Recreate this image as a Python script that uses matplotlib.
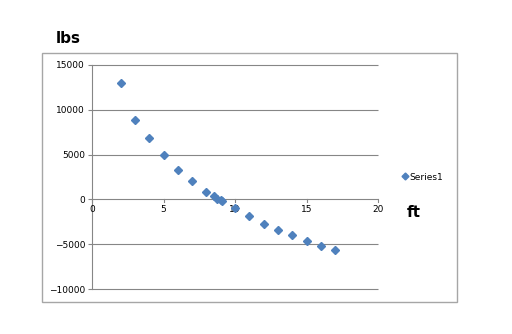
import matplotlib
matplotlib.use("Agg")
import matplotlib.pyplot as plt
from matplotlib.patches import Rectangle
from matplotlib.lines import Line2D

x_ft = [2, 3, 4, 5, 6, 7, 8, 8.5, 8.75, 9, 9.1, 10, 11, 12, 13, 14, 15, 16, 17]
y_lbs = [13000, 8900, 6900, 5000, 3300, 2000, 800, 350, 100, -100, -200,
         -1000, -1900, -2700, -3400, -3950, -4650, -5150, -5700]
x_ticks = [0, 5, 10, 15, 20]
y_ticks = [-10000, -5000, 0, 5000, 10000, 15000]
series_name = "Series1"

blue = "#4F81BD"
grid = "#868686"
plt.rcParams['font.family'] = ['DejaVu Sans']

fig = plt.figure(figsize=(5.12, 3.34), dpi=100)
fig.patch.set_facecolor("white")

# chart area border
fig.patches.append(Rectangle((0.082, 0.096), 0.811, 0.745, transform=fig.transFigure,
                             fill=False, edgecolor="#A6A6A6", linewidth=1.0))

ax = fig.add_axes([0.1797, 0.1347, 0.5586, 0.6707])
ax.set_xlim(0, 20)
ax.set_ylim(-10000, 15000)
ax.set_xticks(x_ticks)
ax.set_yticks(y_ticks)
for s in ["top", "right", "bottom"]:
    ax.spines[s].set_visible(False)
ax.spines["left"].set_color(grid)
ax.spines["left"].set_linewidth(0.8)

# horizontal gridlines (including the bottom one)
ax.hlines(y_ticks, 0, 20, colors=grid, linewidth=0.8, clip_on=False, zorder=1)
ax.tick_params(axis="y", length=3, color=grid, labelsize=6.5, pad=2)
ax.tick_params(axis="x", length=0, labelsize=6.5, pad=0)
# place x tick labels just below zero line
ax.set_xticklabels([])
for xv in x_ticks:
    ax.text(xv, -600, str(xv), ha="center", va="top", fontsize=6.5)
    ax.plot([xv, xv], [0, -300], color=grid, linewidth=0.8, clip_on=False, zorder=1)

ax.plot(x_ft, y_lbs, linestyle="none", marker="D", markersize=4.3, color=blue,
        markeredgecolor=blue, zorder=3)

fig.text(0.108, 0.885, "lbs", fontsize=11, fontweight="bold", ha="left", va="center")
fig.text(0.795, 0.365, "ft", fontsize=11, fontweight="bold", ha="left", va="center")

handle = Line2D([], [], linestyle="none", marker="D", markersize=3.5, color=blue)
fig.legend([handle], [series_name], loc="center left", bbox_to_anchor=(0.777, 0.47),
           frameon=False, fontsize=6.5, handlelength=0.6, handletextpad=0.2,
           borderpad=0)

fig.savefig("out.png", dpi=100, facecolor="white")
